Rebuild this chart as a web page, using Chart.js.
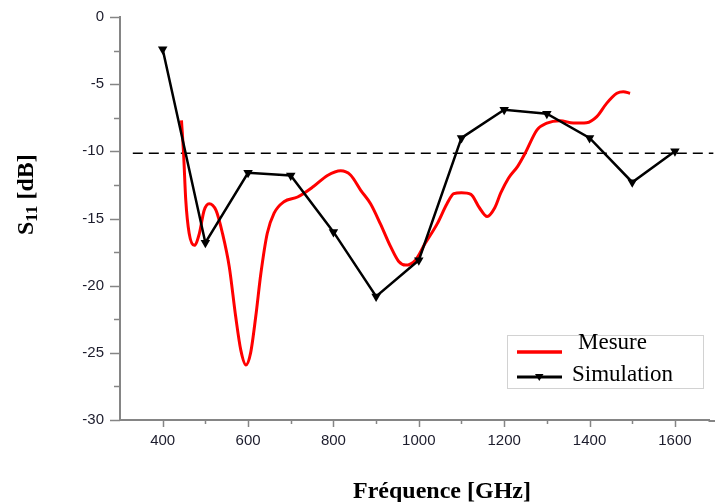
<!DOCTYPE html>
<html>
<head>
<meta charset="utf-8">
<script src="https://cdn.jsdelivr.net/npm/chart.js@4/dist/chart.umd.min.js"></script>
<style>
  html, body { margin: 0; padding: 0; background: #ffffff; }
  #wrap { width: 715px; height: 502px; position: relative; }
</style>
</head>
<body>
<div id="wrap"><canvas id="c" width="715" height="502"></canvas></div>
<script>
// Frequency ticks along the x axis (labels on every 200, minor marks between)
const freqTicks = [400, 500, 600, 700, 800, 900, 1000, 1100, 1200, 1300, 1400, 1500, 1600];
// S11 ticks along the y axis (labels on every 5 dB, minor marks between)
const dbTicks = [0, -2.5, -5, -7.5, -10, -12.5, -15, -17.5, -20, -22.5, -25, -27.5, -30];

// Simulated S11 (dB) at each frequency
const simFreq = [400, 500, 600, 700, 800, 900, 1000, 1100, 1200, 1300, 1400, 1500, 1600];
const simS11  = [-2.4, -16.8, -11.6, -11.8, -16.0, -20.8, -18.1, -9.0, -6.9, -7.2, -9.0, -12.3, -10.0];

// Measured S11 (dB)
const mesFreq = [444, 449, 454, 462, 474, 486, 497, 509, 525, 540, 556, 571, 583, 595, 606, 618, 630, 645, 661, 684,
                 716, 754, 786, 817, 840, 864, 887, 910, 934, 953, 969, 992, 1015, 1043, 1066, 1082, 1100, 1122, 1142,
                 1160, 1178, 1192, 1210, 1232, 1249, 1277, 1300, 1331, 1362, 1393, 1417, 1440, 1464, 1479, 1495];
const mesS11  = [-7.7, -10.2, -13.6, -16.1, -17.0, -16.1, -14.4, -13.9, -14.4, -16.1, -18.6, -22.3, -24.8, -25.9, -25.0,
                 -22.3, -19.1, -16.1, -14.6, -13.75, -13.4, -12.6, -11.8, -11.45, -11.76, -12.9, -13.9, -15.4, -17.1,
                 -18.2, -18.47, -18.1, -16.85, -15.4, -13.9, -13.15, -13.08, -13.2, -14.2, -14.85, -14.2, -13.1, -12.0,
                 -11.1, -10.15, -8.4, -7.9, -7.72, -7.9, -7.87, -7.42, -6.43, -5.68, -5.56, -5.68];

// -10 dB reference level
const refFreq = [330, 1690];
const refS11  = [-10.15, -10.15];

const seriesNames = ['Simulation', 'Mesure'];
const xTitle = 'Fréquence [GHz]';

const pts = (xs, ys) => xs.map((x, i) => ({ x: x, y: ys[i] }));

const AXIS_COLOR = '#858585';
const TEXT_COLOR = '#1c1c2c';

const decor = {
  id: 'decor',
  afterDraw(chart) {
    const ctx = chart.ctx;
    const xs = chart.scales.x, ys = chart.scales.y;
    const area = chart.chartArea;
    ctx.save();

    // frequency axis runs on to the right edge of the canvas
    ctx.strokeStyle = AXIS_COLOR;
    ctx.lineWidth = 2;
    ctx.beginPath();
    ctx.moveTo(area.right - 1, area.bottom + 1);
    ctx.lineTo(chart.width, area.bottom + 1);
    ctx.stroke();

    // tick marks: long on labelled values, short in between
    ctx.lineWidth = 1.5;
    freqTicks.forEach(v => {
      const px = Math.round(xs.getPixelForValue(v)) + 0.5;
      const len = v % 200 === 0 ? 7 : 4;
      ctx.beginPath();
      ctx.moveTo(px, area.bottom);
      ctx.lineTo(px, area.bottom + len);
      ctx.stroke();
    });
    dbTicks.forEach(v => {
      const py = Math.round(ys.getPixelForValue(v)) + 0.5;
      const len = v % 5 === 0 ? 10 : 6;
      ctx.beginPath();
      ctx.moveTo(area.left - len, py);
      ctx.lineTo(area.left, py);
      ctx.stroke();
    });

    // x axis title
    ctx.fillStyle = '#000';
    ctx.font = 'bold 24px "Liberation Serif", "Times New Roman", serif';
    ctx.textAlign = 'center';
    ctx.textBaseline = 'alphabetic';
    ctx.fillText(xTitle, 442, 498);

    // y axis title with subscript
    ctx.save();
    ctx.translate(33, 235);
    ctx.rotate(-Math.PI / 2);
    ctx.textAlign = 'left';
    ctx.font = 'bold 24px "Liberation Serif", "Times New Roman", serif';
    ctx.fillText('S', 0, 0);
    let w = ctx.measureText('S').width;
    ctx.font = 'bold 17px "Liberation Serif", "Times New Roman", serif';
    ctx.fillText('11', w, 4);
    w += ctx.measureText('11').width;
    ctx.font = 'bold 24px "Liberation Serif", "Times New Roman", serif';
    ctx.fillText(' [dB]', w, 0);
    ctx.restore();

    // legend
    ctx.fillStyle = '#ffffff';
    ctx.fillRect(507, 335, 196, 53);
    ctx.strokeStyle = '#d2d2d2';
    ctx.lineWidth = 1;
    ctx.strokeRect(507.5, 335.5, 196, 53);

    ctx.strokeStyle = '#ff0000';
    ctx.lineWidth = 3.5;
    ctx.beginPath();
    ctx.moveTo(517, 352);
    ctx.lineTo(562, 352);
    ctx.stroke();

    ctx.strokeStyle = '#000';
    ctx.lineWidth = 3;
    ctx.beginPath();
    ctx.moveTo(517, 377);
    ctx.lineTo(562, 377);
    ctx.stroke();
    ctx.fillStyle = '#000';
    ctx.beginPath();
    ctx.moveTo(535, 374);
    ctx.lineTo(543.5, 374);
    ctx.lineTo(539.3, 381);
    ctx.closePath();
    ctx.fill();

    ctx.fillStyle = '#000';
    ctx.font = '23px "Liberation Serif", "Times New Roman", serif';
    ctx.textAlign = 'left';
    ctx.fillText(seriesNames[1], 578, 349);
    ctx.fillText(seriesNames[0], 572, 381);

    ctx.restore();
  }
};

new Chart(document.getElementById('c'), {
  type: 'line',
  data: {
    datasets: [
      {
        label: seriesNames[0],
        data: pts(simFreq, simS11),
        borderColor: '#000',
        backgroundColor: '#000',
        borderWidth: 2.5,
        pointStyle: 'triangle',
        rotation: 180,
        pointRadius: 5.5,
        pointBorderWidth: 0,
        tension: 0
      },
      {
        label: seriesNames[1],
        data: pts(mesFreq, mesS11),
        borderColor: '#ff0000',
        backgroundColor: '#ff0000',
        borderWidth: 3,
        pointRadius: 0,
        cubicInterpolationMode: 'monotone'
      },
      {
        label: 'ref',
        data: pts(refFreq, refS11),
        borderColor: '#000',
        borderWidth: 1.5,
        borderDash: [10, 6],
        pointRadius: 0,
        tension: 0,
        clip: false
      }
    ]
  },
  options: {
    responsive: false,
    animation: false,
    events: [],
    layout: { padding: { top: 17, right: 0, bottom: 0, left: 0 } },
    plugins: { legend: { display: false }, tooltip: { enabled: false } },
    scales: {
      x: {
        type: 'linear',
        min: 300,
        max: 1681,
        grid: { display: false, drawTicks: false },
        border: { display: true, color: AXIS_COLOR, width: 2 },
        afterBuildTicks: s => { s.ticks = freqTicks.map(v => ({ value: v })); },
        afterFit: s => { s.height = 82; s.paddingLeft = 0; s.paddingRight = 0; },
        ticks: {
          autoSkip: false,
          maxRotation: 0,
          padding: 12,
          color: TEXT_COLOR,
          font: { family: '"Liberation Sans", Arial, sans-serif', size: 15 },
          callback: v => (v % 200 === 0 ? String(v) : '')
        }
      },
      y: {
        type: 'linear',
        min: -30,
        max: 0,
        grid: { display: false, drawTicks: false },
        border: { display: true, color: AXIS_COLOR, width: 2 },
        afterBuildTicks: s => { s.ticks = dbTicks.map(v => ({ value: v })); },
        afterFit: s => { s.width = 120; s.paddingTop = 0; s.paddingBottom = 0; },
        ticks: {
          autoSkip: false,
          padding: 16,
          color: TEXT_COLOR,
          font: { family: '"Liberation Sans", Arial, sans-serif', size: 15 },
          callback: v => (v % 5 === 0 ? String(v) : '')
        }
      }
    }
  },
  plugins: [decor]
});
</script>
</body>
</html>
